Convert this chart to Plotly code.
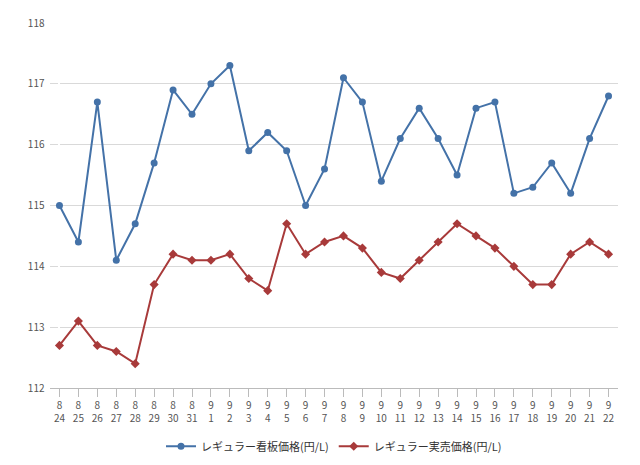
import plotly.graph_objects as go

months = ["8"]*8 + ["9"]*22
days = [24,25,26,27,28,29,30,31] + list(range(1,23))
labels = [f"{m}<br>{d}" for m, d in zip(months, days)]
blue = [115.0,114.4,116.7,114.1,114.7,115.7,116.9,116.5,117.0,117.3,115.9,116.2,115.9,115.0,115.6,
        117.1,116.7,115.4,116.1,116.6,116.1,115.5,116.6,116.7,115.2,115.3,115.7,115.2,116.1,116.8]
red = [112.7,113.1,112.7,112.6,112.4,113.7,114.2,114.1,114.1,114.2,113.8,113.6,114.7,114.2,114.4,
       114.5,114.3,113.9,113.8,114.1,114.4,114.7,114.5,114.3,114.0,113.7,113.7,114.2,114.4,114.2]
x = list(range(len(labels)))

fig = go.Figure()
fig.add_trace(go.Scatter(x=x, y=blue, mode="lines+markers", name="レギュラー看板価格(円/L)",
                         line=dict(color="#4472A8", width=2), marker=dict(size=7, color="#4472A8")))
fig.add_trace(go.Scatter(x=x, y=red, mode="lines+markers", name="レギュラー実売価格(円/L)",
                         line=dict(color="#A83A3A", width=2), marker=dict(size=7, symbol="diamond", color="#A83A3A")))
fig.update_layout(
    width=640, height=465, paper_bgcolor="white", plot_bgcolor="white",
    margin=dict(l=42, r=30, t=15, b=80),
    font=dict(family="Noto Sans CJK JP", size=10, color="#555"),
    legend=dict(orientation="h", x=0.5, xanchor="center", y=-0.12, yanchor="top", font=dict(size=11, color="#333")),
    xaxis=dict(tickmode="array", tickvals=x, ticktext=labels, range=[-0.5, 29.5], showgrid=False,
               showline=True, linecolor="#bbb", ticks="outside", ticklen=8, tickcolor="#bbb", automargin=False),
    yaxis=dict(range=[112, 118], dtick=1, gridcolor="#d9d9d9", zeroline=False, showline=False,
               ticksuffix="  ", automargin=False),
)
fig.write_html("out.html")
